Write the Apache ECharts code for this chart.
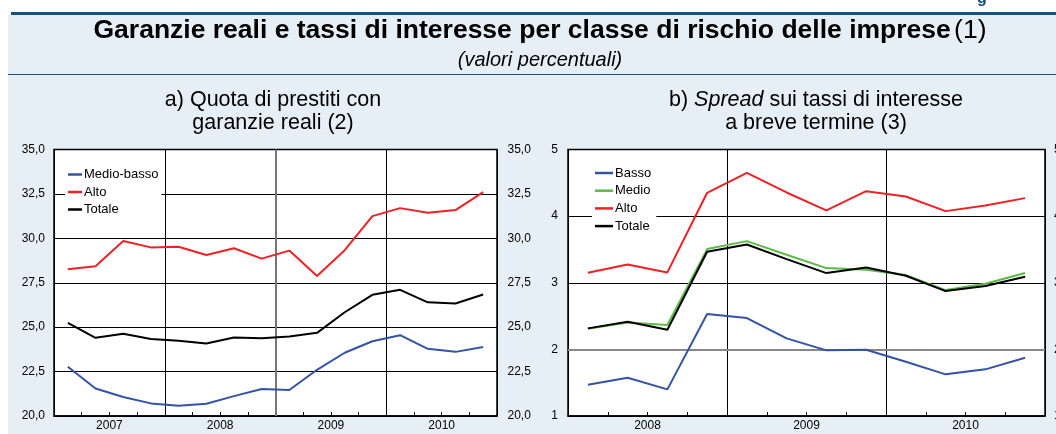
<!DOCTYPE html>
<html><head><meta charset="utf-8">
<script src="https://cdn.jsdelivr.net/npm/echarts@6/dist/echarts.min.js"></script>
<style>html,body{margin:0;padding:0;background:#fff}#c{width:1056px;height:434px}</style>
</head><body><div id="c"></div>
<script>
// Panel a) quarters 2007 Q1 .. 2010 Q4
const yearsA = ['2007','2008','2009','2010'];
const quartersA = ['2007T1','2007T2','2007T3','2007T4','2008T1','2008T2','2008T3','2008T4','2009T1','2009T2','2009T3','2009T4','2010T1','2010T2','2010T3','2010T4'];
const medioBasso = [22.77,21.55,21.07,20.71,20.58,20.69,21.12,21.52,21.46,22.60,23.56,24.21,24.55,23.78,23.61,23.88];
const altoA = [28.26,28.43,29.85,29.49,29.53,29.06,29.44,28.86,29.31,27.88,29.33,31.25,31.70,31.44,31.59,32.60];
const totaleA = [25.24,24.40,24.63,24.33,24.23,24.08,24.42,24.38,24.48,24.68,25.84,26.82,27.10,26.40,26.33,26.84];
// Panel b) quarters 2008 Q1 .. 2010 Q4
const yearsB = ['2008','2009','2010'];
const quartersB = ['2008T1','2008T2','2008T3','2008T4','2009T1','2009T2','2009T3','2009T4','2010T1','2010T2','2010T3','2010T4'];
const basso = [1.47,1.575,1.40,2.53,2.47,2.165,1.985,1.995,1.815,1.625,1.70,1.875];
const medio = [2.31,2.405,2.365,3.505,3.625,3.42,3.22,3.195,3.115,2.89,2.985,3.145];
const altoB = [3.15,3.275,3.155,4.35,4.65,4.355,4.085,4.375,4.295,4.075,4.16,4.27];
const totaleB = [2.315,2.415,2.295,3.465,3.575,3.355,3.145,3.23,3.105,2.875,2.95,3.09];

const FONT = "'Liberation Sans', Arial, sans-serif";
const BLUE = '#3553a5', RED = '#ec2227', GREEN = '#5dba47', BLACK = '#000';

function pts(arr){ return arr.map((v,i)=>[i+0.5, v]); }
function yearFmt(years){ return v => { const k = (v-2)/4; return Number.isInteger(k) && years[k] ? years[k] : ''; }; }
const axisLbl = {color:'#000', fontFamily:FONT, fontSize:12};

const option = {
  animation:false,
  graphic:[
    {type:'rect', z:-10, shape:{x:8,y:15,width:1048,height:419}, style:{fill:'#e7eff6'}},
    {type:'rect', z:-9, shape:{x:11,y:12,width:1045,height:3}, style:{fill:'#17527a'}},
    {type:'rect', z:-9, shape:{x:8,y:74,width:1048,height:1}, style:{fill:'#17527a'}},
    {type:'text', z:10, x:982, y:-9, style:{text:'g', fill:'#17527a', font:'bold 16px '+FONT, textAlign:'center'}},
    {type:'text', z:10, x:540, y:31, style:{
      text:'{b|Garanzie reali e tassi di interesse per classe di rischio delle imprese} {n|(1)}',
      textAlign:'center', textVerticalAlign:'middle',
      rich:{b:{font:'bold 26.5px '+FONT, fill:'#000'}, n:{font:'26.5px '+FONT, fill:'#000'}}}},
    {type:'text', z:10, x:540, y:60, style:{text:'(valori percentuali)', font:'italic 20px '+FONT, fill:'#000', textAlign:'center', textVerticalAlign:'middle'}},
    {type:'text', z:10, x:273, y:100, style:{text:'a) Quota di prestiti con', font:'21.5px '+FONT, fill:'#000', textAlign:'center', textVerticalAlign:'middle'}},
    {type:'text', z:10, x:273, y:123, style:{text:'garanzie reali (2)', font:'21.5px '+FONT, fill:'#000', textAlign:'center', textVerticalAlign:'middle'}},
    {type:'text', z:10, x:816, y:100, style:{
      text:'{n|b) }{i|Spread}{n| sui tassi di interesse}', textAlign:'center', textVerticalAlign:'middle',
      rich:{i:{font:'italic 21.5px '+FONT, fill:'#000'}, n:{font:'21.5px '+FONT, fill:'#000'}}}},
    {type:'text', z:10, x:816, y:123, style:{text:'a breve termine (3)', font:'21.5px '+FONT, fill:'#000', textAlign:'center', textVerticalAlign:'middle'}}
  ],
  legend:[
    {data:['Medio-basso','Alto','Totale'], orient:'vertical', left:65, top:165, padding:[2,3,2,3], backgroundColor:'#fff',
     icon:'rect', itemWidth:14, itemHeight:2.5, itemGap:2.5, textStyle:{fontFamily:FONT, fontSize:13, color:'#000', lineHeight:15, padding:[0,0,0,-3]}},
    {data:['Basso','Medio','Alto ','Totale '], orient:'vertical', left:592, top:163.5, padding:[2,3,2,3], backgroundColor:'#fff',
     icon:'rect', itemWidth:18, itemHeight:2.5, itemGap:2.7, textStyle:{fontFamily:FONT, fontSize:13, color:'#000', lineHeight:15, padding:[0,0,0,-3]}}
  ],
  grid:[
    {left:54, right:559, top:149.5, bottom:18, show:true, backgroundColor:'#fff', borderColor:'#000', borderWidth:1.5, containLabel:false, outerBoundsMode:'none'},
    {left:568, right:11, top:149.5, bottom:18, show:true, backgroundColor:'#fff', borderColor:'#000', borderWidth:1.5, containLabel:false, outerBoundsMode:'none'}
  ],
  xAxis:[
    {type:'value', gridIndex:0, min:0, max:16, interval:1,
     axisLine:{show:true, lineStyle:{color:'#000', width:1.5}}, axisTick:{show:true, inside:true, length:4, lineStyle:{color:'#000'}},
     axisLabel:Object.assign({formatter:yearFmt(yearsA), margin:4, showMinLabel:false, showMaxLabel:false}, axisLbl), splitLine:{show:false}},
    {type:'value', gridIndex:0, min:0, max:16, interval:4, axisLine:{show:false}, axisTick:{show:false}, axisLabel:{show:false},
     splitLine:{show:true, lineStyle:{color:'#000', width:1}}},
    {type:'value', gridIndex:1, min:0, max:12, interval:1,
     axisLine:{show:true, lineStyle:{color:'#000', width:1.5}}, axisTick:{show:true, inside:true, length:4, lineStyle:{color:'#000'}},
     axisLabel:Object.assign({formatter:yearFmt(yearsB), margin:4, showMinLabel:false, showMaxLabel:false}, axisLbl), splitLine:{show:false}},
    {type:'value', gridIndex:1, min:0, max:12, interval:4, axisLine:{show:false}, axisTick:{show:false}, axisLabel:{show:false},
     splitLine:{show:true, lineStyle:{color:'#000', width:1}}}
  ],
  yAxis:[
    {type:'value', gridIndex:0, min:20, max:35, interval:2.5, axisLine:{show:false}, axisTick:{show:false},
     axisLabel:Object.assign({formatter:v=>v.toFixed(1).replace('.',','), margin:9}, axisLbl), splitLine:{show:true, lineStyle:{color:'#000', width:1}}},
    {type:'value', gridIndex:0, position:'right', min:20, max:35, interval:2.5, axisLine:{show:false}, axisTick:{show:false},
     axisLabel:Object.assign({formatter:v=>v.toFixed(1).replace('.',','), margin:10.5}, axisLbl), splitLine:{show:false}},
    {type:'value', gridIndex:1, min:1, max:5, interval:1, axisLine:{show:false}, axisTick:{show:false},
     axisLabel:Object.assign({margin:10}, axisLbl), splitLine:{show:true, lineStyle:{color:'#000', width:1}}},
    {type:'value', gridIndex:1, position:'right', min:1, max:5, interval:1, axisLine:{show:false}, axisTick:{show:false},
     axisLabel:Object.assign({margin:9}, axisLbl), splitLine:{show:false}}
  ],
  series:[
    {name:'Medio-basso', type:'line', xAxisIndex:0, yAxisIndex:0, data:pts(medioBasso), showSymbol:false, color:BLUE, lineStyle:{width:2}, z:3,
     markLine:{silent:true, symbol:'none', label:{show:false}, lineStyle:{color:'#777', width:2, type:'solid'}, data:[{xAxis:8}], z:1}},
    {name:'Alto', type:'line', xAxisIndex:0, yAxisIndex:0, data:pts(altoA), showSymbol:false, color:RED, lineStyle:{width:2}, z:3},
    {name:'Totale', type:'line', xAxisIndex:0, yAxisIndex:0, data:pts(totaleA), showSymbol:false, color:BLACK, lineStyle:{width:2}, z:3},
    {name:'Basso', type:'line', xAxisIndex:2, yAxisIndex:2, data:pts(basso), showSymbol:false, color:BLUE, lineStyle:{width:2}, z:3,
     markLine:{silent:true, symbol:'none', label:{show:false}, lineStyle:{color:'#888', width:2, type:'solid'}, data:[{yAxis:2}], z:1}},
    {name:'Medio', type:'line', xAxisIndex:2, yAxisIndex:2, data:pts(medio), showSymbol:false, color:GREEN, lineStyle:{width:2}, z:3},
    {name:'Alto ', type:'line', xAxisIndex:2, yAxisIndex:2, data:pts(altoB), showSymbol:false, color:RED, lineStyle:{width:2}, z:3},
    {name:'Totale ', type:'line', xAxisIndex:2, yAxisIndex:2, data:pts(totaleB), showSymbol:false, color:BLACK, lineStyle:{width:2}, z:3}
  ]
};
const chart = echarts.init(document.getElementById('c'), null, {renderer:'canvas'});
chart.setOption(option);
</script></body></html>
